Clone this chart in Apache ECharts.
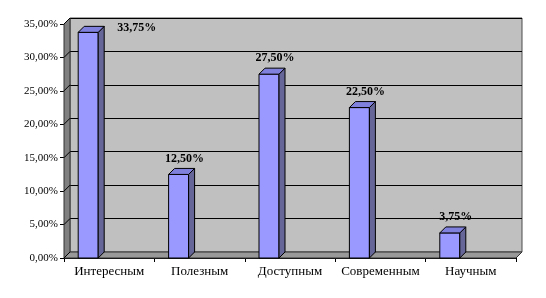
<!DOCTYPE html>
<html>
<head>
<meta charset="utf-8">
<script src="https://cdn.jsdelivr.net/npm/echarts@6/dist/echarts.min.js"></script>
<style>
  html, body { margin: 0; padding: 0; background: #fff; }
  #main { width: 546px; height: 298px; }
</style>
</head>
<body>
<div id="main"></div>
<script>
// данные диаграммы
var categories = ['Интересным', 'Полезным', 'Доступным', 'Современным', 'Научным'];
var values = [33.75, 12.5, 27.5, 22.5, 3.75];
var yTicks = [0, 5, 10, 15, 20, 25, 30, 35];

var DEPTH = 6; // смещение "глубины" для 3D
var FONT = 'Liberation Serif';

function pct(v) {
  return v.toFixed(2).replace('.', ',') + '%';
}

var myChart = echarts.init(document.getElementById('main'));

var option = {
  animation: false,
  grid: [
    // передняя плоскость (оси, столбцы)
    { left: 64, right: 30, top: 24, bottom: 40 },
    // задняя стенка
    { left: 70, right: 24, top: 18, bottom: 46, show: true,
      backgroundColor: '#c0c0c0', borderColor: '#4d4d4d', borderWidth: 1 }
  ],
  xAxis: [
    {
      type: 'category', gridIndex: 0, data: categories,
      axisLine: { lineStyle: { color: '#000', width: 1 } },
      axisTick: { show: true, length: 4, lineStyle: { color: '#000' } },
      axisLabel: { color: '#000', fontSize: 13, fontFamily: FONT, margin: 7, interval: 0 }
    },
    { type: 'category', gridIndex: 1, data: categories, show: false }
  ],
  yAxis: [
    {
      type: 'value', gridIndex: 0, min: 0, max: 35, interval: 5,
      axisLine: { show: true, lineStyle: { color: '#000', width: 1 } },
      axisTick: { show: true, length: 4, lineStyle: { color: '#000' } },
      splitLine: { show: false },
      axisLabel: { color: '#000', fontSize: 11, fontFamily: FONT, margin: 6, formatter: pct }
    },
    {
      type: 'value', gridIndex: 1, min: 0, max: 35, interval: 5,
      axisLine: { show: false }, axisTick: { show: false }, axisLabel: { show: false },
      splitLine: { show: true, lineStyle: { color: '#000', width: 1 } }
    }
  ],
  series: [
    {
      // боковая стенка и пол
      type: 'custom', xAxisIndex: 0, yAxisIndex: 0, z: 1, silent: true,
      data: yTicks.map(function (t) { return [0, t]; }),
      renderItem: function (params, api) {
        var cs = params.coordSys;
        var y = api.coord([0, api.value(1)])[1];
        var children = [];
        if (params.dataIndex === 0) {
          var b = cs.y + cs.height, r = cs.x + cs.width;
          children.push({
            type: 'polygon',
            shape: { points: [[cs.x, cs.y], [cs.x + DEPTH, cs.y - DEPTH], [cs.x + DEPTH, b - DEPTH], [cs.x, b]] },
            style: { fill: '#808080', stroke: '#333', lineWidth: 1 }
          });
          children.push({
            type: 'polygon',
            shape: { points: [[cs.x, b], [cs.x + DEPTH, b - DEPTH], [r + DEPTH, b - DEPTH], [r, b]] },
            style: { fill: '#999999', stroke: '#333', lineWidth: 1 }
          });
        }
        children.push({
          type: 'line',
          shape: { x1: cs.x, y1: y, x2: cs.x + DEPTH, y2: y - DEPTH },
          style: { stroke: '#000', lineWidth: 1 }
        });
        return { type: 'group', children: children };
      }
    },
    {
      // объёмные столбцы
      type: 'custom', xAxisIndex: 0, yAxisIndex: 0, z: 2,
      data: values.map(function (v, i) { return [i, v]; }),
      encode: { x: 0, y: 1 },
      renderItem: function (params, api) {
        var cs = params.coordSys;
        var v = api.value(1);
        var top = api.coord([api.value(0), v]);
        var base = api.coord([api.value(0), 0]);
        var fl = top[0] - 31, fr = top[0] - 11;
        var t = top[1], b = base[1];
        var lx = fl + 16, ly = t - 16, align = 'center';
        if (ly - 8 < cs.y) {
          lx = fr + DEPTH + 13; ly = t - 4; align = 'left';
        }
        return {
          type: 'group',
          children: [
            { type: 'rect', shape: { x: fl, y: t, width: fr - fl, height: b - t },
              style: { fill: '#9999ff', stroke: '#000', lineWidth: 1 } },
            { type: 'polygon', shape: { points: [[fr, t], [fr + DEPTH, t - DEPTH], [fr + DEPTH, b - DEPTH], [fr, b]] },
              style: { fill: '#666699', stroke: '#000', lineWidth: 1 } },
            { type: 'polygon', shape: { points: [[fl, t], [fl + DEPTH, t - DEPTH], [fr + DEPTH, t - DEPTH], [fr, t]] },
              style: { fill: '#8080dd', stroke: '#000', lineWidth: 1 } },
            { type: 'text', x: lx, y: ly,
              style: { text: pct(v), fill: '#000', fontFamily: FONT, fontWeight: 'bold', fontSize: 12,
                       align: align, verticalAlign: 'middle' } }
          ]
        };
      }
    }
  ]
};

myChart.setOption(option);
</script>
</body>
</html>
